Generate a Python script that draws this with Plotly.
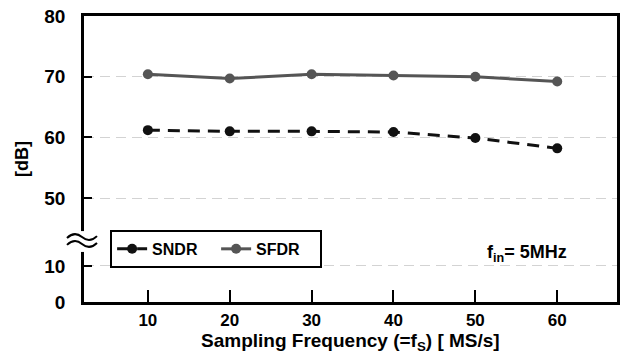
import plotly.graph_objects as go

# ---- data ----
fs = [10, 20, 30, 40, 50, 60]
sndr = [61.2, 61.0, 61.0, 60.9, 59.9, 58.2]
sfdr = [70.4, 69.7, 70.4, 70.2, 70.0, 69.2]
x_ticks = [10, 20, 30, 40, 50, 60]
y_tick_values = [0, 10, 50, 60, 70, 80]
y_tick_labels = ["0", "10", "50", "60", "70", "80"]

# broken y axis: values >= 50 plotted directly, low part compressed below the break
BREAK_BASE = 32.9
LOW_SCALE = 0.593


def axis_pos(v):
    return v if v >= 50 else BREAK_BASE + v * LOW_SCALE


FONT = "Liberation Sans, Arial, sans-serif"

fig = go.Figure()
fig.add_trace(go.Scatter(
    x=fs, y=sndr, name="SNDR", mode="lines+markers",
    line=dict(color="#111111", width=3, dash="12px,8px"),
    marker=dict(size=10, color="#111111"),
))
fig.add_trace(go.Scatter(
    x=fs, y=sfdr, name="SFDR", mode="lines+markers",
    line=dict(color="#555555", width=3),
    marker=dict(size=10, color="#555555"),
))

fig.update_layout(
    width=622, height=355,
    margin=dict(l=84, r=5, t=16, b=53, autoexpand=False),
    paper_bgcolor="white", plot_bgcolor="white",
    font=dict(family=FONT, color="black", size=16, weight="bold"),
    showlegend=True,
    legend=dict(
        orientation="h", x=0.049, y=0.252, xanchor="left", yanchor="top",
        bgcolor="white", bordercolor="black", borderwidth=2,
        font=dict(size=16, family=FONT, weight="bold"),
        entrywidth=59, entrywidthmode="pixels",
    ),
)

fig.update_xaxes(
    range=[2.2, 67.3], tickvals=x_ticks, ticktext=[str(t) for t in x_ticks],
    ticks="inside", ticklen=12, tickwidth=1.5, tickcolor="black",
    showline=True, linecolor="black", linewidth=2.5, mirror=True,
    showgrid=False, zeroline=False, automargin=False,
    tickfont=dict(size=17, family=FONT, weight="bold"),
    ticklabelstandoff=1,
)
fig.update_yaxes(
    range=[BREAK_BASE, 80],
    tickvals=[axis_pos(v) for v in y_tick_values], ticktext=y_tick_labels,
    ticks="inside", ticklen=8, tickwidth=1.5, tickcolor="black",
    showline=True, linecolor="black", linewidth=2.5, mirror=True,
    showgrid=True, gridcolor="#d3d3d3", gridwidth=1, griddash="10px,6px",
    zeroline=False, automargin=False,
    tickfont=dict(size=19, family=FONT, weight="bold"),
    ticklabelstandoff=12,
    title=dict(text="[dB]", font=dict(size=18, family=FONT, weight="bold"), standoff=12),
)

# x-axis title as a paper annotation just below the tick labels
fig.add_annotation(text="Sampling Frequency (=f<sub>S</sub>) [ MS/s]",
                   xref="paper", yref="paper", x=0.5, y=-0.141,
                   xanchor="center", yanchor="middle", showarrow=False,
                   font=dict(size=19, family=FONT, weight="bold"))

# axis break marker: white gap over the axis line plus two wavy strokes
fig.add_shape(type="rect", xref="paper", yref="paper",
              x0=-0.02, x1=0.02, y0=0.175, y1=0.248,
              fillcolor="white", line=dict(width=0), layer="above")
x0, w, a = -0.0319, 0.0563, 0.011
for yc in (0.227, 0.203):
    path = (f"M {x0},{yc - a * 0.3} Q {x0 + w / 4},{yc + 2 * a} {x0 + w / 2},{yc} "
            f"T {x0 + w},{yc + a * 0.3}")
    fig.add_shape(type="path", xref="paper", yref="paper", path=path,
                  line=dict(color="black", width=2), layer="above")

fig.add_annotation(text="f<sub>in</sub>= 5MHz", xref="paper", yref="paper",
                   x=0.832, y=0.168, showarrow=False,
                   font=dict(size=18, family=FONT, weight="bold"),
                   xanchor="center", yanchor="middle")

fig.write_html("out.html", config={"displayModeBar": False},
               post_script="document.body.style.margin='0';document.body.style.overflow='hidden';")
